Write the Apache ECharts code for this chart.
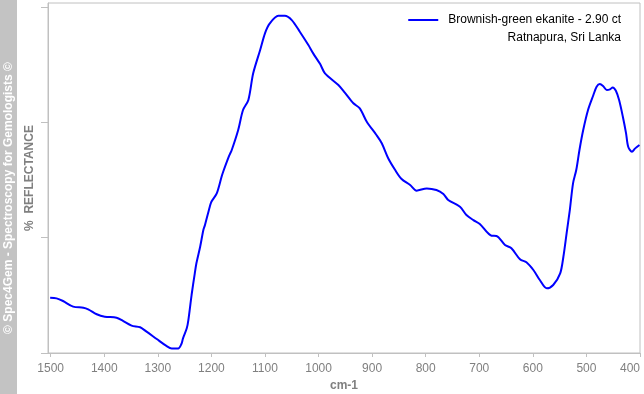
<!DOCTYPE html>
<html>
<head>
<meta charset="utf-8">
<script src="https://cdn.jsdelivr.net/npm/echarts@6/dist/echarts.min.js"></script>
<style>html,body{margin:0;padding:0;background:#fff}#c{width:644px;height:394px}</style>
</head>
<body>
<div id="c"></div>
<script>
const wavenumbers = [1501,1489,1477,1458,1439,1430,1414,1399,1377,1365,1349,1333,1321,1302,1284,1274,1262,1256,1253,1246,1243,1237,1231,1228,1221,1215,1212,1203,1200,1190,1181,1178,1167,1162,1150,1141,1131,1122,1109,1100,1091,1075,1063,1050,1035,1019,1010,997,988,963,951,935,923,910,892,882,870,857,845,829,817,798,780,767,758,736,724,711,699,677,668,652,640,624,612,599,587,574,562,549,543,537,531,525,519,513,506,497,487,481,475,469,462,456,451,445,439,432,426,422,415,409,401];
const reflectance = [0.480,0.474,0.451,0.402,0.393,0.379,0.336,0.315,0.306,0.278,0.237,0.223,0.185,0.121,0.061,0.039,0.039,0.078,0.127,0.214,0.286,0.503,0.691,0.778,0.922,1.067,1.110,1.269,1.312,1.385,1.529,1.572,1.709,1.761,1.934,2.108,2.195,2.426,2.628,2.773,2.859,2.925,2.925,2.888,2.787,2.671,2.599,2.506,2.426,2.324,2.258,2.166,2.122,2.006,1.891,1.819,1.689,1.587,1.509,1.457,1.408,1.428,1.414,1.379,1.327,1.269,1.197,1.153,1.119,1.017,1.015,0.937,0.908,0.813,0.787,0.720,0.633,0.561,0.590,0.691,0.835,1.038,1.240,1.472,1.587,1.761,1.934,2.108,2.238,2.310,2.333,2.316,2.281,2.287,2.304,2.275,2.194,2.049,1.905,1.789,1.746,1.775,1.804];
const xTicks = [1500,1400,1300,1200,1100,1000,900,800,700,600,500,400];
const yTicks = [0,1,2,3];
const seriesName = 'Brownish-green ekanite - 2.90 ct';
const subLabel = 'Ratnapura, Sri Lanka';
const xName = 'cm-1';
const yName = '%  REFLECTANCE';
const credit = '© Spec4Gem - Spectroscopy for Gemologists ©';

const chart = echarts.init(document.getElementById('c'), null, {renderer:'canvas'});
const gray = '#c0c0c0';
const data = wavenumbers.map((w,i)=>[w, reflectance[i]]);
chart.setOption({
  animation:false,
  backgroundColor:'#fff',
  textStyle:{fontFamily:'Liberation Sans, Arial, sans-serif'},
  grid:{left:48,right:4,top:3,bottom:41,show:true,borderColor:gray,borderWidth:1,outerBoundsMode:'none',containLabel:false},
  title:{text:subLabel,right:23,top:32,padding:0,
    textStyle:{fontSize:12,fontWeight:'normal',color:'#000',fontFamily:'Liberation Sans, Arial, sans-serif'}},
  legend:{right:23,top:14,padding:0,itemWidth:30,itemHeight:2,itemGap:10,
    textStyle:{fontSize:12,color:'#000',padding:[0,0,0,5]},
    data:[{name:seriesName,icon:'rect'}]},
  graphic:[
    {type:'rect',shape:{x:0,y:0,width:17,height:394},style:{fill:'#c3c3c3'},z:10},
    {type:'text',x:9,y:198,rotation:Math.PI/2,z:11,
      style:{text:credit,fill:'#fff',font:'bold 12px "Liberation Sans", Arial, sans-serif',align:'center',verticalAlign:'middle'}}
  ],
  xAxis:{type:'value',min:400,max:1505,inverse:true,
    name:xName,nameLocation:'middle',nameGap:26,
    nameTextStyle:{fontSize:12,fontWeight:'bold',color:'#808080'},
    axisLine:{lineStyle:{color:gray}},
    axisTick:{customValues:xTicks,length:4,lineStyle:{color:gray}},
    axisLabel:{customValues:xTicks,color:'#808080',fontSize:12,margin:10,alignMaxLabel:'right',formatter:v=>String(v)},
    splitLine:{show:false}},
  yAxis:{type:'value',min:0,max:3.036,
    name:yName,nameLocation:'middle',nameGap:12,nameRotate:90,
    nameTextStyle:{fontSize:12,fontWeight:'bold',color:'#808080'},
    axisLine:{show:true,lineStyle:{color:gray}},
    axisTick:{show:true,customValues:yTicks,length:7,lineStyle:{color:gray}},
    axisLabel:{show:false},
    splitLine:{show:false}},
  series:[{name:seriesName,type:'line',data:data,showSymbol:false,symbol:'none',smooth:0.3,
    lineStyle:{color:'#0000ff',width:2},itemStyle:{color:'#0000ff'}}]
});
</script>
</body>
</html>
